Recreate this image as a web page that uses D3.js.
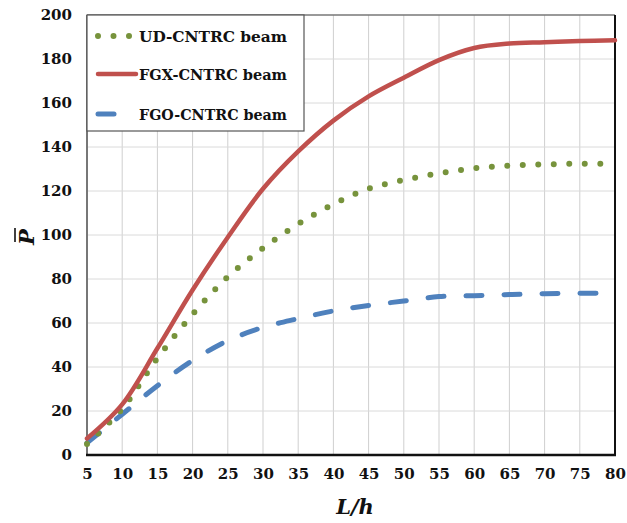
<!DOCTYPE html>
<html>
<head>
<meta charset="utf-8">
<script src="https://cdn.jsdelivr.net/npm/d3@7"></script>
<style>
  body { margin: 0; background: #fff; }
  text { font-family: "DejaVu Serif", "Liberation Serif", serif; font-weight: bold; fill: #111; }
</style>
</head>
<body>
<div id="chart"></div>
<script>
const lh = [5, 10, 15, 20, 25, 30, 35, 40, 45, 50, 55, 60, 65, 70, 75, 80];
const udBeam = [5, 21, 44, 64, 81, 94, 105, 114, 121, 125, 128, 130.3, 131.5, 132.1, 132.4, 132.4];
const fgxBeam = [7.5, 23, 48.5, 75, 99, 121, 138, 152, 163, 171.5, 179.5, 185, 187, 187.6, 188.2, 188.5];
const fgoBeam = [5.5, 18.5, 31.5, 43, 52, 58, 62, 65.5, 68, 70, 72, 72.4, 72.9, 73.3, 73.5, 73.6];
const xTicks = [5, 10, 15, 20, 25, 30, 35, 40, 45, 50, 55, 60, 65, 70, 75, 80];
const yTicks = [0, 20, 40, 60, 80, 100, 120, 140, 160, 180, 200];

const width = 627, height = 523;
const margin = { top: 15, right: 12, bottom: 68, left: 87 };

const svg = d3.select("#chart").append("svg")
    .attr("width", width)
    .attr("height", height);

svg.append("rect").attr("width", width).attr("height", height).attr("fill", "#fff");

const x = d3.scaleLinear().domain([5, 80]).range([margin.left, width - margin.right]);
const y = d3.scaleLinear().domain([0, 200]).range([height - margin.bottom, margin.top]);

// grid
svg.append("g")
    .selectAll("line")
    .data(xTicks.slice(1, -1))
    .join("line")
    .attr("x1", d => x(d)).attr("x2", d => x(d))
    .attr("y1", y(0)).attr("y2", y(200))
    .attr("stroke", "#cfcfcf").attr("stroke-width", 1);

svg.append("g")
    .selectAll("line")
    .data(yTicks.slice(1, -1))
    .join("line")
    .attr("x1", x(5)).attr("x2", x(80))
    .attr("y1", d => y(d)).attr("y2", d => y(d))
    .attr("stroke", "#dadada").attr("stroke-width", 1);

// frame
svg.append("line").attr("x1", x(5)).attr("x2", x(80)).attr("y1", y(200)).attr("y2", y(200))
    .attr("stroke", "#777").attr("stroke-width", 1.5);
svg.append("line").attr("x1", x(80)).attr("x2", x(80)).attr("y1", y(200)).attr("y2", y(0))
    .attr("stroke", "#111").attr("stroke-width", 2);
svg.append("line").attr("x1", x(5)).attr("x2", x(5)).attr("y1", y(200)).attr("y2", y(0))
    .attr("stroke", "#777").attr("stroke-width", 2);
svg.append("line").attr("x1", x(5) - 1).attr("x2", x(80) + 1).attr("y1", y(0)).attr("y2", y(0))
    .attr("stroke", "#111").attr("stroke-width", 2.5);

// axes labels
const xAxis = d3.axisBottom(x).tickValues(xTicks).tickSize(0).tickPadding(13);
svg.append("g")
    .attr("transform", `translate(0,${y(0)})`)
    .call(xAxis)
    .call(g => g.select(".domain").remove())
    .call(g => g.selectAll("text").attr("font-size", 15).attr("font-family", null));

const yAxis = d3.axisLeft(y).tickValues(yTicks).tickSize(0).tickPadding(15);
svg.append("g")
    .attr("transform", `translate(${x(5)},0)`)
    .call(yAxis)
    .call(g => g.select(".domain").remove())
    .call(g => g.selectAll("text").attr("font-size", 15).attr("font-family", null));

// series
const line = d3.line()
    .x((d, i) => x(lh[i]))
    .y(d => y(d))
    .curve(d3.curveCatmullRom.alpha(0.5));

svg.append("path").datum(fgoBeam)
    .attr("d", line).attr("fill", "none")
    .attr("stroke", "#4F81BD").attr("stroke-width", 5)
    .attr("stroke-linecap", "round").attr("stroke-dasharray", "16 22");

svg.append("path").datum(udBeam)
    .attr("d", line).attr("fill", "none")
    .attr("stroke", "#77933C").attr("stroke-width", 6)
    .attr("stroke-linecap", "round").attr("stroke-dasharray", "0 15.5");

svg.append("path").datum(fgxBeam)
    .attr("d", line).attr("fill", "none")
    .attr("stroke", "#C0504D").attr("stroke-width", 4.5)
    .attr("stroke-linecap", "round");

// legend
const legend = svg.append("g");
legend.append("rect")
    .attr("x", x(5)).attr("y", y(200))
    .attr("width", 217).attr("height", 116)
    .attr("fill", "#fff").attr("stroke", "#555").attr("stroke-width", 1.2);

const items = [
    { name: "UD-CNTRC beam", color: "#77933C", w: 6, dash: "0 15.5", y: 36, x1: 98, x2: 130 },
    { name: "FGX-CNTRC beam", color: "#C0504D", w: 4.5, dash: null, y: 74, x1: 98, x2: 136 },
    { name: "FGO-CNTRC beam", color: "#4F81BD", w: 5, dash: null, y: 114, x1: 98, x2: 114 }
];
items.forEach(it => {
    legend.append("line")
        .attr("x1", it.x1).attr("x2", it.x2).attr("y1", it.y).attr("y2", it.y)
        .attr("stroke", it.color).attr("stroke-width", it.w)
        .attr("stroke-linecap", "round")
        .attr("stroke-dasharray", it.dash);
    legend.append("text")
        .attr("x", 139).attr("y", it.y + 5.5)
        .attr("font-size", 15)
        .attr("textLength", 148).attr("lengthAdjust", "spacingAndGlyphs")
        .text(it.name);
});

// axis titles
svg.append("text")
    .attr("x", 355).attr("y", 514)
    .attr("text-anchor", "middle")
    .attr("font-size", 21).attr("font-style", "italic")
    .text("L/h");

const yTitle = svg.append("g").attr("transform", "translate(34,237) rotate(-90)");
yTitle.append("text")
    .attr("x", 0).attr("y", 0)
    .attr("text-anchor", "middle")
    .attr("font-size", 21).attr("font-style", "italic")
    .text("P");
yTitle.append("line")
    .attr("x1", -5).attr("x2", 9).attr("y1", -19).attr("y2", -19)
    .attr("stroke", "#111").attr("stroke-width", 1.6);
</script>
</body>
</html>
